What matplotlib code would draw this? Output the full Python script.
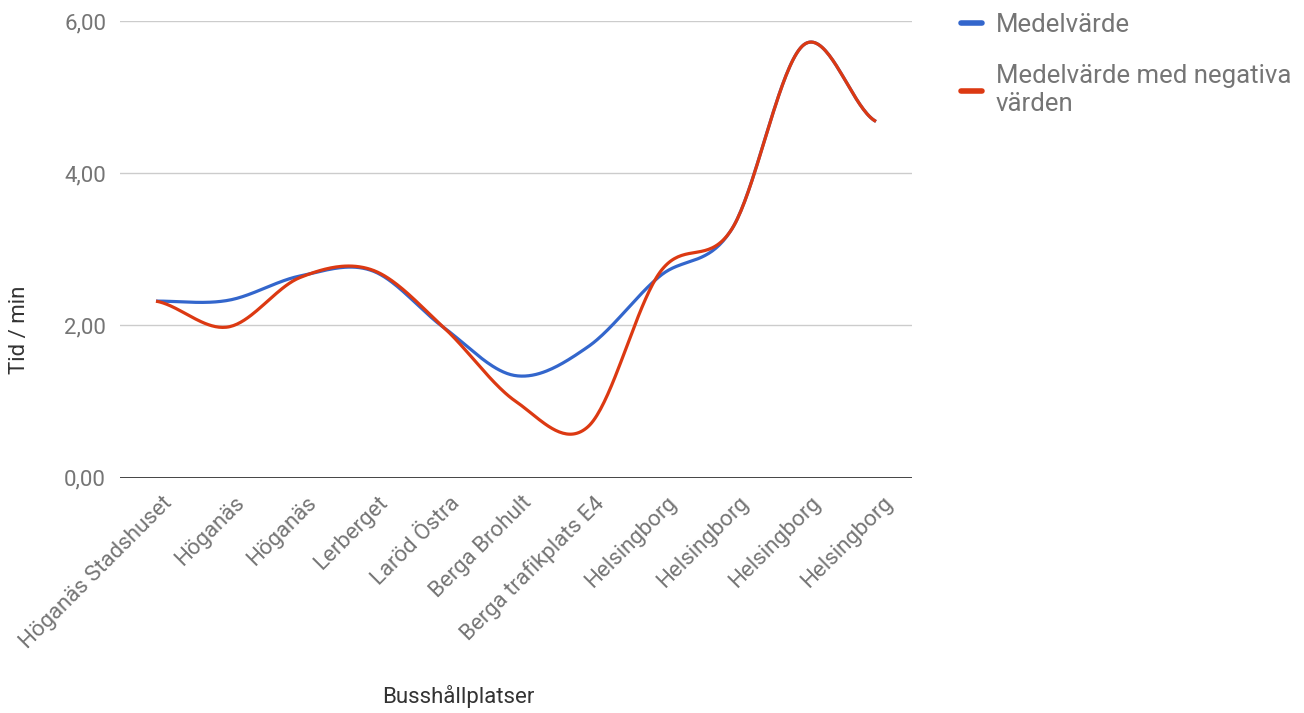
import numpy as np
import matplotlib.pyplot as plt
import matplotlib.transforms as mtransforms
from matplotlib.lines import Line2D

plt.rcParams['font.family'] = ['Roboto', 'DejaVu Sans']

stops = ["Höganäs Stadshuset", "Höganäs", "Höganäs", "Lerberget", "Laröd Östra",
         "Berga Brohult", "Berga trafikplats E4", "Helsingborg", "Helsingborg",
         "Helsingborg", "Helsingborg"]
medel = [2.32, 2.33, 2.65, 2.72, 1.97, 1.34, 1.72, 2.65, 3.27, 5.69, 4.68]
medel_neg = [2.32, 1.98, 2.63, 2.73, 1.97, 1.00, 0.67, 2.70, 3.27, 5.69, 4.68]
series_names = ["Medelvärde", "Medelvärde med negativa\nvärden"]
colors = ["#3366cc", "#dc3912"]
yticks = [0, 2, 4, 6]


def smooth(y, steps=40):
    ''' Catmull-Rom curve through the points, returns dense x, y '''
    y = np.asarray(y, dtype=float)
    n = len(y)
    m = np.zeros(n)
    m[1:-1] = (y[2:] - y[:-2]) / 2
    m[0] = (y[1] - y[0]) / 2
    m[-1] = (y[-1] - y[-2]) / 2
    xs, ys = [], []
    t = np.linspace(0, 1, steps, endpoint=False)
    for i in range(n - 1):
        h00 = 2*t**3 - 3*t**2 + 1
        h10 = t**3 - 2*t**2 + t
        h01 = -2*t**3 + 3*t**2
        h11 = t**3 - t**2
        xs.append(i + t)
        ys.append(h00*y[i] + h10*m[i] + h01*y[i+1] + h11*m[i+1])
    xs.append([n - 1])
    ys.append([y[-1]])
    return np.concatenate(xs), np.concatenate(ys)


fig = plt.figure(figsize=(13.04, 7.13), dpi=100)
ax = fig.add_axes([120/1304, 1 - 477.7/713, 792/1304, 456.7/713])

for vals, c in zip([medel, medel_neg], colors):
    sx, sy = smooth(vals)
    ax.plot(sx, sy, color=c, lw=2.3, solid_capstyle='butt', zorder=3)

ax.set_xlim(-0.5, len(stops) - 0.5)
ax.set_ylim(0, 6)
ax.set_yticks(yticks)
ax.set_yticklabels([f"{v:.2f}".replace('.', ',') for v in yticks],
                   color="#757575", fontsize=16)
for v in yticks[1:]:
    ax.axhline(v, color="#cccccc", lw=1, zorder=1)
ax.axhline(0, color="#333333", lw=2, zorder=2)

ax.set_xticks(range(len(stops)))
ax.set_xticklabels(stops, rotation=45, ha='right', va='center',
                   rotation_mode='anchor', color="#757575", fontsize=16)
ax.tick_params(axis='both', length=0)
ax.tick_params(axis='y', pad=10)
ax.tick_params(axis='x', pad=16)
# nudge the slanted labels so their ends sit right of each point
shift = mtransforms.ScaledTranslation(13/100, 0, fig.dpi_scale_trans)
for lbl in ax.get_xticklabels():
    lbl.set_transform(lbl.get_transform() + shift)
for s in ax.spines.values():
    s.set_visible(False)

fig.text(20/1304, 1 - 330/713, "Tid / min", rotation=90, ha='center', va='center',
         fontsize=16, color="#333333")
fig.text(458/1304, 1 - 697/713, "Busshållplatser", ha='center', va='center',
         fontsize=16, color="#333333")

handles = [Line2D([0], [0], color=c, lw=4, solid_capstyle='round') for c in colors]
fig.legend(handles, series_names, loc='upper left', bbox_to_anchor=(938/1304, 1 + 10/713),
           frameon=False, fontsize=18.5, labelcolor="#757575", handlelength=0.8,
           handletextpad=0.55, labelspacing=1.05)

fig.savefig("out.png", dpi=100)
